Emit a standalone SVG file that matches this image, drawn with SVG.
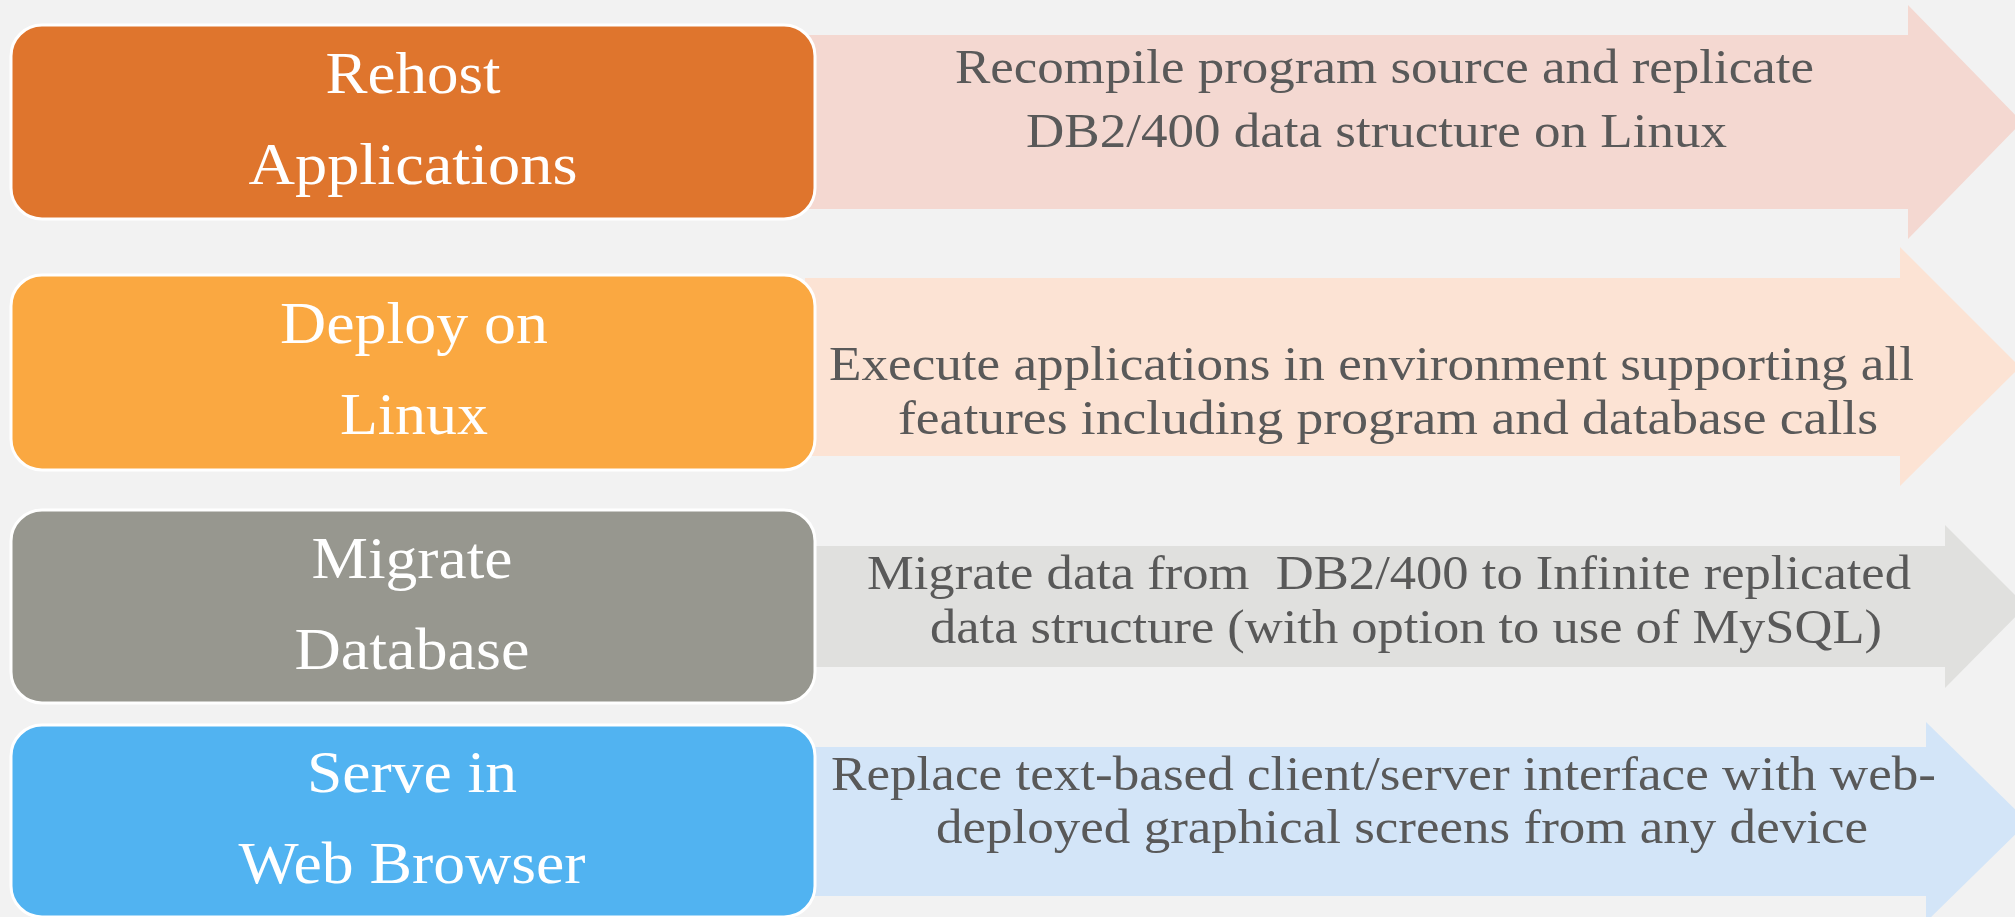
<svg xmlns="http://www.w3.org/2000/svg" width="2015" height="917" viewBox="0 0 2015 917">
<style>
.box{stroke:#FFFFFF;stroke-width:3}
.lbl{font-family:"Liberation Serif","DejaVu Serif",serif;font-size:59px;fill:#FFFFFF;text-anchor:middle}
.desc{font-family:"Liberation Serif","DejaVu Serif",serif;font-size:49px;fill:#595959}
</style>
<rect width="2015" height="917" fill="#F2F2F2"/>
<g id="connectors">
<polygon id="arrow1" points="805,35 1908,35 1908,5 2022,122 1908,239 1908,209 805,209" fill="#F4D8D1"/>
<polygon id="arrow2" points="805,278 1900,278 1900,247 2020,367 1900,486 1900,456 805,456" fill="#FCE3D4"/>
<polygon id="arrow3" points="805,546 1945,546 1945,525 2026,606 1945,688 1945,667 805,667" fill="#E0E0DE"/>
<polygon id="arrow4" points="805,747 1926,747 1926,722 2028,822 1926,922 1926,896 805,896" fill="#D3E5F8"/>
</g>
<g id="desc1">
<text class="desc" x="955" y="83" textLength="859" lengthAdjust="spacingAndGlyphs">Recompile program source and replicate</text>
<text class="desc" x="1026" y="147" textLength="701" lengthAdjust="spacingAndGlyphs">DB2/400 data structure on Linux</text>
</g>
<g id="desc2">
<text class="desc" x="829" y="380" textLength="1085" lengthAdjust="spacingAndGlyphs">Execute applications in environment supporting all</text>
<text class="desc" x="898" y="434" textLength="980" lengthAdjust="spacingAndGlyphs">features including program and database calls</text>
</g>
<g id="desc3">
<text class="desc" x="867" y="589" textLength="1044" lengthAdjust="spacingAndGlyphs" xml:space="preserve">Migrate data from  DB2/400 to Infinite replicated</text>
<text class="desc" x="930" y="643" textLength="952" lengthAdjust="spacingAndGlyphs">data structure (with option to use of MySQL)</text>
</g>
<g id="desc4">
<text class="desc" x="831" y="790" textLength="1105" lengthAdjust="spacingAndGlyphs">Replace text-based client/server interface with web-</text>
<text class="desc" x="936" y="843" textLength="932" lengthAdjust="spacingAndGlyphs">deployed graphical screens from any device</text>
</g>
<g id="node1">
<rect class="box" x="11" y="25" width="804" height="194" rx="31" ry="31" fill="#DF752D"/>
<text class="lbl" x="413" y="93" textLength="175" lengthAdjust="spacingAndGlyphs">Rehost</text>
<text class="lbl" x="413" y="184" textLength="329" lengthAdjust="spacingAndGlyphs">Applications</text>
</g>
<g id="node2">
<rect class="box" x="11" y="275" width="804" height="195" rx="31" ry="31" fill="#FAA841"/>
<text class="lbl" x="414" y="343" textLength="268" lengthAdjust="spacingAndGlyphs">Deploy on</text>
<text class="lbl" x="414" y="434" textLength="148" lengthAdjust="spacingAndGlyphs">Linux</text>
</g>
<g id="node3">
<rect class="box" x="11" y="510" width="804" height="193" rx="31" ry="31" fill="#97978F"/>
<text class="lbl" x="412" y="578" textLength="201" lengthAdjust="spacingAndGlyphs">Migrate</text>
<text class="lbl" x="412" y="669" textLength="235" lengthAdjust="spacingAndGlyphs">Database</text>
</g>
<g id="node4">
<rect class="box" x="11" y="725" width="804" height="192" rx="31" ry="31" fill="#51B3F1"/>
<text class="lbl" x="412" y="792" textLength="210" lengthAdjust="spacingAndGlyphs">Serve in</text>
<text class="lbl" x="412" y="883" textLength="347" lengthAdjust="spacingAndGlyphs">Web Browser</text>
</g>
</svg>
